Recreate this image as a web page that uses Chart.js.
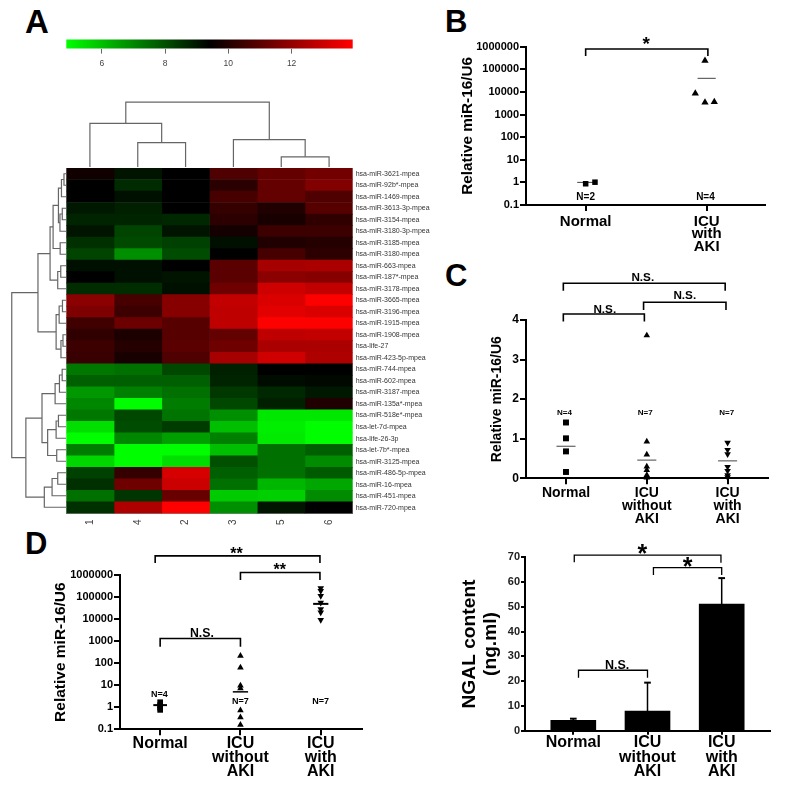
<!DOCTYPE html>
<html>
<head>
<meta charset="utf-8">
<title>miR-16 figure</title>
<script src="https://cdn.jsdelivr.net/npm/chart.js@4"></script>
<style>
  body { margin: 0; background: #fff; width: 787px; height: 793px; overflow: hidden; position: relative; }
  canvas { position: absolute; }
  .letter { position: absolute; font: bold 31px "Liberation Sans", Arial, sans-serif; color: #000; line-height: 1; }
</style>
</head>
<body>
<div class="letter" style="left:25px;top:5px;font-size:33px">A</div>
<div class="letter" style="left:445px;top:6px">B</div>
<div class="letter" style="left:445px;top:260px">C</div>
<div class="letter" style="left:25px;top:528px">D</div>
<script>
// panel A, heatmap
const rowLabels = ['hsa-miR-3621-mpea', 'hsa-miR-92b*-mpea', 'hsa-miR-1469-mpea', 'hsa-miR-3613-3p-mpea', 'hsa-miR-3154-mpea',
  'hsa-miR-3180-3p-mpea', 'hsa-miR-3185-mpea', 'hsa-miR-3180-mpea', 'hsa-miR-663-mpea', 'hsa-miR-187*-mpea', 'hsa-miR-3178-mpea',
  'hsa-miR-3665-mpea', 'hsa-miR-3196-mpea', 'hsa-miR-1915-mpea', 'hsa-miR-1908-mpea', 'hsa-life-27', 'hsa-miR-423-5p-mpea',
  'hsa-miR-744-mpea', 'hsa-miR-602-mpea', 'hsa-miR-3187-mpea', 'hsa-miR-135a*-mpea', 'hsa-miR-518e*-mpea', 'hsa-let-7d-mpea',
  'hsa-life-26-3p', 'hsa-let-7b*-mpea', 'hsa-miR-3125-mpea', 'hsa-miR-486-5p-mpea', 'hsa-miR-16-mpea', 'hsa-miR-451-mpea', 'hsa-miR-720-mpea'];
const colLabels = ['1', '4', '2', '3', '5', '6'];
const heatValues = [
  [9.68, 9.05, 9.4, 10.81, 11.2, 11.43],
  [9.4, 8.66, 9.4, 10.14, 11.2, 11.69],
  [9.4, 9.12, 9.4, 10.67, 11.16, 10.81],
  [8.98, 8.84, 9.4, 10.32, 9.96, 10.92],
  [8.76, 8.76, 8.69, 10.18, 9.82, 10.25],
  [9.05, 8.2, 9.05, 9.75, 10.46, 10.46],
  [8.55, 8.09, 8.27, 9.12, 9.96, 10.04],
  [8.2, 6.86, 8.06, 9.4, 10.67, 10.18],
  [9.12, 9.12, 9.4, 11.02, 12.36, 12.44],
  [9.4, 9.12, 9.05, 11.02, 11.87, 11.8],
  [8.62, 8.62, 9.12, 11.38, 13.07, 12.86],
  [11.87, 10.67, 11.8, 12.86, 13.28, 13.9],
  [11.66, 10.46, 11.8, 12.79, 13.42, 13.28],
  [10.53, 11.31, 10.95, 12.79, 13.9, 13.9],
  [10.25, 9.89, 10.95, 11.16, 12.79, 12.86],
  [10.46, 10.04, 11.02, 11.38, 12.44, 12.44],
  [10.39, 9.82, 10.81, 12.36, 13.07, 12.51],
  [7.28, 7.42, 8.13, 8.84, 9.4, 9.4],
  [7.71, 7.71, 7.71, 8.76, 9.19, 9.26],
  [6.72, 7.14, 7.42, 8.41, 8.69, 8.98],
  [7.0, 4.9, 7.21, 8.13, 8.84, 9.96],
  [7.28, 8.13, 7.35, 6.86, 5.31, 5.31],
  [5.45, 8.06, 8.34, 6.01, 5.16, 4.9],
  [4.9, 7.0, 6.58, 7.14, 5.24, 4.9],
  [7.21, 4.9, 4.9, 6.01, 7.42, 7.71],
  [5.59, 4.9, 5.45, 7.99, 7.42, 6.93],
  [8.27, 10.32, 13.21, 7.71, 7.42, 7.78],
  [8.55, 11.38, 13.0, 7.42, 6.15, 6.44],
  [7.42, 8.48, 11.24, 5.8, 5.73, 6.93],
  [8.55, 12.51, 13.9, 6.86, 9.05, 9.4]
];
const heatMin = 4.88, heatMid = 9.4, heatMax = 13.93;
const keyTicks = [6, 8, 10, 12];

// dendrograms, written like hclust: negative = leaf, positive = earlier merge, then height
const colMerge = [[-2, -3, 24], [-1, 1, 43], [-5, -6, 10], [-4, 3, 27], [2, 4, 64]];
const rowMerge = [[-1, -2, 2], [1, -3, 4.5], [-4, -5, 3.7], [3, -6, 6], [2, 4, 7.5], [-7, -8, 5.8], [5, 6, 12.8],
  [-9, -10, 5.2], [8, -11, 8.2], [7, 9, 15.8], [-12, -13, 3.5], [11, -14, 6.8], [-15, -16, 3], [13, -17, 5], [12, 14, 9.8],
  [10, 15, 27.8], [-18, -19, 3.8], [17, -20, 6.5], [18, -21, 10.8], [-22, -23, 7.5], [20, -24, 9.8], [-25, -26, 9.2],
  [21, 22, 18.2], [19, 23, 23.8], [-27, -28, 8.2], [25, -29, 13.8], [26, -30, 21.5], [24, 27, 39.8], [16, 28, 53.8]];

// panel B
const bTicks = [0.1, 1, 10, 100, 1000, 10000, 100000, 1000000];
const bGroups = [['Normal'], ['ICU', 'with', 'AKI']];
const bNormalX = [1, 1.077], bNormalY = [0.87, 1.02];
const bIcuX = [1.986, 1.906, 1.986, 2.063], bIcuY = [240000, 8500, 3400, 3600];
const bMeans = [1, 40000];

// panel C
const cGroups = [['Normal'], ['ICU', 'without', 'AKI'], ['ICU', 'with', 'AKI']];
const cNormal = [1.41, 1.01, 0.68, 0.16];
const cWithout = [3.61, 0.93, 0.6, 0.295, 0.21, 0.08, 0.02];
const cWith = [0.9, 0.72, 0.61, 0.29, 0.19, 0.08, 0.03];
const cMeans = [0.81, 0.46, 0.44];

// panel D
const dNormal = [1.69, 1.23, 0.97, 0.76];
const dWithout = [214, 63, 9.6, 7.3, 0.73, 0.35, 0.16];
const dWith = [250000, 190000, 113000, 56000, 28000, 20000, 9100];
const dMeans = [1.25, 5, 49000];

// panel E
const eMeans = [4.2, 7.9, 51.1];
const eErrors = [4.85, 19.4, 61.6];

const FONT = '"Liberation Sans", Arial, sans-serif';

function heatColor(v) {
  if (v >= heatMid) return 'rgb(' + Math.round(255 * Math.min(1, (v - heatMid) / (heatMax - heatMid))) + ',0,0)';
  return 'rgb(0,' + Math.round(255 * Math.min(1, (heatMid - v) / (heatMid - heatMin))) + ',0)';
}

function newCanvas(box) {
  const c = document.createElement('canvas');
  c.width = box.w; c.height = box.h;
  c.style.left = box.x + 'px';
  c.style.top = box.y + 'px';
  c.style.width = box.w + 'px';
  c.style.height = box.h + 'px';
  document.body.appendChild(c);
  return c;
}

// keeps the plot area where the reference has it
function padFor(box, area) {
  return { left: 0, top: area.top - box.y, right: box.x + box.w - area.right, bottom: 0 };
}

function notes(items) {
  return {
    id: 'notes',
    afterDatasetsDraw(chart) {
      const ctx = chart.ctx;
      ctx.save();
      ctx.fillStyle = '#000';
      ctx.textAlign = 'center';
      ctx.textBaseline = 'middle';
      items.forEach(n => {
        ctx.font = 'bold ' + n.size + 'px ' + FONT;
        const dy = n.text.includes('*') ? n.size * 0.22 : 0;
        ctx.fillText(n.text, chart.scales.x.getPixelForValue(n.x), chart.scales.y.getPixelForValue(n.y) + dy);
      });
      ctx.restore();
    }
  };
}

function line(points, width, color) {
  return { type: 'scatter', showLine: true, data: points, borderColor: color || '#000', borderWidth: width, pointRadius: 0, clip: false, borderCapStyle: 'butt', order: 0 };
}
// bracket: x1, x2, top, left drop, right drop
function bracket(x1, x2, top, low1, low2, width) {
  return line([{ x: x1, y: low1 }, { x: x1, y: top }, { x: x2, y: top }, { x: x2, y: low2 }], width || 1.6);
}
function marks(xs, ys, style, radius, rotation) {
  return {
    type: 'scatter', data: ys.map((y, i) => ({ x: Array.isArray(xs) ? xs[i] : xs, y: y })),
    pointStyle: style, pointRadius: radius, pointRotation: rotation || 0,
    backgroundColor: '#000', borderColor: '#000', borderWidth: 0, clip: false
  };
}
function meanLine(x, half, y, width, color) {
  return line([{ x: x - half, y: y }, { x: x + half, y: y }], width, color);
}

function axes(box, area, o) {
  const ticks = o.groups.map((g, i) => i + 1);
  return {
    x: {
      type: 'linear', min: o.xRange[0], max: o.xRange[1], offset: false,
      afterFit: s => { s.height = box.y + box.h - area.bottom; },
      afterBuildTicks: s => { s.ticks = ticks.map(v => ({ value: v })); },
      grid: { offset: false, drawOnChartArea: false, color: '#000', lineWidth: 2, tickLength: o.tick || 6 },
      border: { color: '#000', width: 2 },
      ticks: {
        autoSkip: false, maxRotation: 0, color: '#000', padding: o.xPad === undefined ? 1 : o.xPad,
        font: { family: FONT, weight: 'bold', size: o.xSize, lineHeight: o.xLine },
        callback: (v, i) => o.groups[i]
      }
    },
    y: Object.assign({
      afterFit: s => { s.width = area.left - box.x; },
      grid: { drawOnChartArea: false, color: '#000', lineWidth: 2, tickLength: o.ytick || 6 },
      border: { color: '#000', width: 2 },
      title: {
        display: true, text: o.title, color: '#000', padding: 0,
        font: { family: FONT, weight: 'bold', size: o.titleSize, lineHeight: o.titleLine || 1.2 }
      },
      ticks: {
        color: o.yColor || '#000', padding: 1, autoSkip: false, stepSize: o.step,
        font: { family: FONT, weight: 'bold', size: o.ySize },
        callback: v => String(v)
      }
    }, o.y)
  };
}

function logAxis() {
  return {
    type: 'logarithmic', min: 0.1, max: 1000000,
    afterBuildTicks: s => { s.ticks = bTicks.map(v => ({ value: v })); }
  };
}

const base = { responsive: false, animation: false, plugins: { legend: { display: false }, tooltip: { enabled: false } } };

// colour key
(function () {
  const box = { x: 50, y: 30, w: 320, h: 45 }, area = { left: 66.3, top: 39.4, right: 352.7, bottom: 48.6 };
  new Chart(newCanvas(box), {
    type: 'bar',
    data: {
      labels: [''],
      datasets: [{
        data: [[heatMin, heatMax]], barPercentage: 1, categoryPercentage: 1,
        backgroundColor: c => {
          const g = c.chart.ctx.createLinearGradient(area.left - box.x, 0, area.right - box.x, 0);
          g.addColorStop(0, heatColor(heatMin));
          g.addColorStop((heatMid - heatMin) / (heatMax - heatMin), '#000');
          g.addColorStop(1, heatColor(heatMax));
          return g;
        }
      }]
    },
    options: Object.assign({}, base, {
      indexAxis: 'y',
      layout: { padding: padFor(box, area) },
      scales: {
        x: {
          type: 'linear', min: heatMin, max: heatMax,
          afterFit: s => { s.height = box.y + box.h - area.bottom; },
          afterBuildTicks: s => { s.ticks = keyTicks.map(v => ({ value: v })); },
          grid: { drawOnChartArea: false, color: '#666', tickLength: 5 },
          border: { display: false },
          ticks: { color: '#444', padding: 5, maxRotation: 0, font: { family: FONT, size: 8.5 } }
        },
        y: { display: true, grid: { display: false }, border: { display: false }, ticks: { display: false }, afterFit: s => { s.width = area.left - box.x; } }
      }
    })
  });
})();

// cluster lines from a merge table
function dendro(merge, leafPos) {
  const nodes = [];
  const get = id => id < 0 ? { pos: leafPos(-id - 1), h: 0 } : nodes[id - 1];
  return merge.map(m => {
    const a = get(m[0]), b = get(m[1]);
    nodes.push({ pos: (a.pos + b.pos) / 2, h: m[2] });
    return [{ pos: a.pos, h: a.h }, { pos: a.pos, h: m[2] }, { pos: b.pos, h: m[2] }, { pos: b.pos, h: b.h }];
  });
}

// column tree
(function () {
  const box = { x: 66.3, y: 96, w: 286.4, h: 70 };
  const c = newCanvas({ x: 66, y: 96, w: 287, h: 71 });
  new Chart(c, {
    type: 'scatter',
    data: { datasets: dendro(colMerge, i => i + 0.5).map(u => line(u.map(p => ({ x: p.pos, y: p.h })), 1.2, '#666')) },
    options: Object.assign({}, base, {
      scales: { x: { display: false, min: 0, max: 6 }, y: { display: false, min: 0, max: box.h } }
    })
  });
})();

// row tree
(function () {
  const c = newCanvas({ x: 5, y: 168, w: 61, h: 345 });
  new Chart(c, {
    type: 'scatter',
    data: { datasets: dendro(rowMerge, i => i + 0.5).map(u => line(u.map(p => ({ x: p.h, y: p.pos })), 1.2, '#666')) },
    options: Object.assign({}, base, {
      scales: { x: { display: false, min: 0, max: 60.5, reverse: true }, y: { display: false, min: 0, max: 30, reverse: true } }
    })
  });
})();

// heat cells
(function () {
  const box = { x: 50, y: 160, w: 400, h: 380 }, area = { left: 66.3, top: 168, right: 352.7, bottom: 513.4 };
  new Chart(newCanvas(box), {
    type: 'bar',
    data: {
      labels: rowLabels,
      datasets: colLabels.map((name, j) => ({
        label: name, data: rowLabels.map(() => 1), barPercentage: 1, categoryPercentage: 1, borderWidth: 0,
        backgroundColor: heatValues.map(r => heatColor(r[j]))
      }))
    },
    options: Object.assign({}, base, {
      indexAxis: 'y',
      layout: { padding: { left: area.left - box.x, top: area.top - box.y, right: 0, bottom: 0 } },
      scales: {
        x: {
          type: 'linear', stacked: true, min: 0, max: 6, position: 'bottom',
          afterFit: s => { s.height = box.y + box.h - area.bottom; },
          afterBuildTicks: s => { s.ticks = colLabels.map((n, i) => ({ value: i + 0.5 })); },
          grid: { display: false, drawTicks: false }, border: { color: '#888', width: 1 },
          ticks: { autoSkip: false, minRotation: 90, maxRotation: 90, padding: 6, color: '#444', font: { family: FONT, size: 10 }, callback: (v, i) => colLabels[i] }
        },
        y: {
          stacked: true, position: 'right',
          afterFit: s => { s.width = box.x + box.w - area.right; },
          grid: { display: false, drawTicks: false }, border: { display: false },
          ticks: { autoSkip: false, padding: 3, color: '#333', font: { family: FONT, size: 7 } }
        }
      }
    })
  });
})();

// panel B
(function () {
  const box = { x: 459, y: 30, w: 320, h: 232 }, area = { left: 526, top: 46.7, right: 765, bottom: 205 };
  new Chart(newCanvas(box), {
    type: 'scatter',
    data: {
      datasets: [
        marks(bNormalX, bNormalY, 'rect', 3.9),
        marks(bIcuX, bIcuY, 'triangle', 4.2),
        meanLine(1, 0.07, bMeans[0], 1, '#444'),
        meanLine(2, 0.075, bMeans[1], 1, '#444'),
        bracket(1, 2.01, 794000, 390000, 390000)
      ]
    },
    options: Object.assign({}, base, {
      layout: { padding: padFor(box, area) },
      scales: axes(box, area, { groups: bGroups, xRange: [0.507, 2.482], xSize: 15, xLine: 0.85, xPad: 4, ySize: 11, title: 'Relative miR-16/U6', titleSize: 15.3, y: logAxis() })
    }),
    plugins: [notes([
      { x: 1.5, y: 1800000, text: '*', size: 19 },
      { x: 1.0, y: 0.22, text: 'N=2', size: 10 },
      { x: 1.99, y: 0.22, text: 'N=4', size: 10 }
    ])]
  });
})();

// panel C
(function () {
  const box = { x: 489, y: 262, w: 290, h: 270 }, area = { left: 526, top: 320, right: 768, bottom: 478.3 };
  new Chart(newCanvas(box), {
    type: 'scatter',
    data: {
      datasets: [
        marks(1, cNormal, 'rect', 4.2),
        marks(2, cWithout, 'triangle', 3.8),
        marks(3, cWith, 'triangle', 3.8, 180),
        meanLine(1, 0.118, cMeans[0], 1, '#444'),
        meanLine(2, 0.118, cMeans[1], 1, '#444'),
        meanLine(3, 0.118, cMeans[2], 1, '#444'),
        bracket(0.967, 2.97, 4.93, 4.74, 4.74),
        bracket(1.96, 2.98, 4.45, 4.25, 4.25),
        bracket(0.967, 1.97, 4.15, 3.96, 3.96)
      ]
    },
    options: Object.assign({}, base, {
      layout: { padding: padFor(box, area) },
      scales: axes(box, area, {
        groups: cGroups, xRange: [0.505, 3.5], xSize: 14, xLine: 0.95, xPad: 2, ySize: 12, step: 1, title: 'Relative miR-16/U6', titleSize: 14,
        y: { type: 'linear', min: 0, max: 4 }
      })
    }),
    plugins: [notes([
      { x: 1.95, y: 5.07, text: 'N.S.', size: 11.7 },
      { x: 2.47, y: 4.6, text: 'N.S.', size: 11.7 },
      { x: 1.48, y: 4.27, text: 'N.S.', size: 11.7 },
      { x: 0.98, y: 1.66, text: 'N=4', size: 8 },
      { x: 1.98, y: 1.66, text: 'N=7', size: 8 },
      { x: 2.99, y: 1.66, text: 'N=7', size: 8 }
    ])]
  });
})();

// panel D
(function () {
  const box = { x: 51, y: 530, w: 325, h: 263 }, area = { left: 120, top: 575, right: 361.7, bottom: 729.3 };
  new Chart(newCanvas(box), {
    type: 'scatter',
    data: {
      datasets: [
        marks(1, dNormal, 'rect', 4),
        marks(2, dWithout, 'triangle', 3.8),
        marks(3, dWith, 'triangle', 3.8, 180),
        meanLine(1, 0.085, dMeans[0], 2),
        meanLine(2, 0.095, dMeans[1], 1.5),
        meanLine(3, 0.095, dMeans[2], 2),
        bracket(0.938, 2.99, 7400000, 3470000, 3470000),
        bracket(2, 2.99, 1290000, 600000, 600000),
        bracket(1, 2, 1320, 560, 560)
      ]
    },
    options: Object.assign({}, base, {
      layout: { padding: padFor(box, area) },
      scales: axes(box, area, { groups: cGroups, xRange: [0.5, 3.51], xSize: 16, xLine: 0.87, ySize: 11, title: 'Relative miR-16/U6', titleSize: 15.5, y: logAxis() })
    }),
    plugins: [notes([
      { x: 1.95, y: 11700000, text: '**', size: 16 },
      { x: 2.49, y: 2190000, text: '**', size: 16 },
      { x: 1.52, y: 2290, text: 'N.S.', size: 12.3 },
      { x: 0.99, y: 3.9, text: 'N=4', size: 9 },
      { x: 2, y: 1.74, text: 'N=7', size: 9 },
      { x: 3, y: 1.74, text: 'N=7', size: 9 }
    ])]
  });
})();

// panel E
(function () {
  const box = { x: 460, y: 535, w: 320, h: 258 }, area = { left: 525, top: 557.3, right: 770, bottom: 730.7 };
  const xs = [1, 2, 3];
  const errs = [];
  xs.forEach((x, i) => {
    errs.push(line([{ x: x, y: eMeans[i] }, { x: x, y: eErrors[i] }], 1.5));
    errs.push(line([{ x: x - 0.045, y: eErrors[i] }, { x: x + 0.045, y: eErrors[i] }], 2));
  });
  new Chart(newCanvas(box), {
    type: 'bar',
    data: {
      datasets: errs.concat([
        bracket(1.013, 2.99, 70.9, 68, 67.8, 1.3),
        bracket(2.08, 3, 65.8, 62.9, 62.9, 1.3),
        bracket(1.07, 2, 24.4, 21.4, 21.4, 1.3),
        { type: 'bar', data: xs.map((x, i) => ({ x: x, y: eMeans[i] })), backgroundColor: '#000', barThickness: 45, order: 1 }
      ])
    },
    options: Object.assign({}, base, {
      layout: { padding: padFor(box, area) },
      scales: axes(box, area, {
        groups: cGroups, xRange: [0.349, 3.651], xSize: 16, xLine: 0.9, ySize: 11, yColor: '#222', tick: 4, ytick: 4, step: 10, title: ['NGAL content', '(ng.ml)'], titleSize: 19.2, titleLine: 1.05,
        y: { type: 'linear', min: 0, max: 70 }
      })
    }),
    plugins: [notes([
      { x: 1.93, y: 73, text: '*', size: 25 },
      { x: 2.54, y: 67.7, text: '*', size: 25 },
      { x: 1.59, y: 26.5, text: 'N.S.', size: 12.5 }
    ])]
  });
})();
</script>
</body>
</html>
